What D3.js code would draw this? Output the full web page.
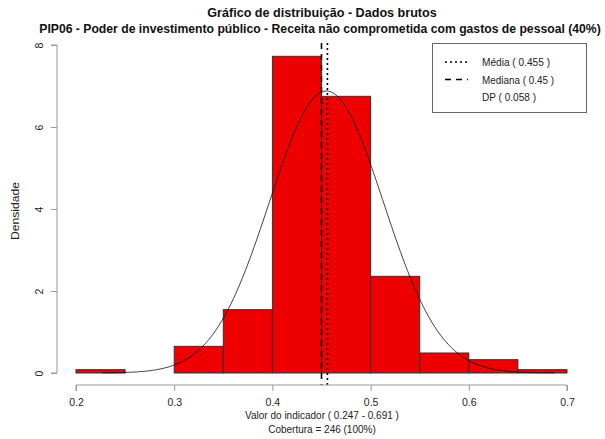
<!DOCTYPE html>
<html><head><meta charset="utf-8">
<script src="https://cdn.jsdelivr.net/npm/d3@7"></script>
<style>body{margin:0;background:#fff}svg{display:block}text{font-family:"Liberation Sans",Arial,sans-serif}</style>
</head><body>
<svg id="c" width="605" height="439"></svg>
<script>
const binStarts = [0.20,0.25,0.30,0.35,0.40,0.45,0.50,0.55,0.60,0.65];
const binWidth = 0.05;
const densities = [0.081,0,0.650,1.545,7.724,6.748,2.358,0.488,0.325,0.081];
const xTicks = [0.2,0.3,0.4,0.5,0.6,0.7];
const yTicks = [0,2,4,6,8];
const meanVal = 0.455, medianVal = 0.45, sdVal = 0.058;
const curveRange = [0.227, 0.687];
const titles = ["Gráfico de distribuição - Dados brutos","PIP06 - Poder de investimento público - Receita não comprometida com gastos de pessoal (40%)"];
const xLabels = ["Valor do indicador ( 0.247 - 0.691 )","Cobertura = 246 (100%)"];
const legendLabels = ["Média ( 0.455 )","Mediana ( 0.45 )","DP ( 0.058 )"];

const svg = d3.select("#c");
const x = d3.scaleLinear().domain([0.2,0.7]).range([76,567]);
const y = d3.scaleLinear().domain([0,8]).range([373,45]);
const plotTop = 43, plotBottom = 385;

// bars
svg.append("g").selectAll("rect").data(binStarts).join("rect")
  .attr("x", d=>x(d)).attr("width", d=>x(d+binWidth)-x(d))
  .attr("y", (d,i)=>y(densities[i])).attr("height",(d,i)=>y(0)-y(densities[i]))
  .attr("fill","#ee0000").attr("stroke","#333").attr("stroke-width",1)
  .filter((d,i)=>densities[i]===0).remove();

// normal curve
const pts = d3.range(0,201).map(i=>curveRange[0]+(curveRange[1]-curveRange[0])*i/200);
const dn = v => Math.exp(-0.5*((v-meanVal)/sdVal)**2)/(sdVal*Math.sqrt(2*Math.PI));
svg.append("path").datum(pts)
  .attr("d", d3.line().x(d=>x(d)).y(d=>y(dn(d))))
  .attr("fill","none").attr("stroke","#111").attr("stroke-width",0.8);

// mean/median lines
svg.append("line").attr("x1",x(meanVal)+1).attr("x2",x(meanVal)+1).attr("y1",plotTop).attr("y2",plotBottom)
  .attr("stroke","#000").attr("stroke-width",1.6).attr("stroke-dasharray","2,3");
svg.append("line").attr("x1",x(medianVal)).attr("x2",x(medianVal)).attr("y1",plotTop).attr("y2",plotBottom)
  .attr("stroke","#000").attr("stroke-width",1.6).attr("stroke-dasharray","6,5");

// x axis
const xa = svg.append("g").attr("transform",`translate(0,${plotBottom})`)
  .call(d3.axisBottom(x).tickValues(xTicks).tickSize(6).tickPadding(8).tickFormat(d3.format("")));
xa.select(".domain").attr("stroke","#999").attr("d",`M${x(0.2)},6V0H${x(0.7)}V6`);
xa.selectAll(".tick line").attr("stroke","#999");
xa.selectAll("text").attr("font-size","10.5px").attr("fill","#222").attr("font-family","Liberation Sans, Arial, sans-serif");

// y axis
const ya = svg.append("g").attr("transform","translate(57,0)")
  .call(d3.axisLeft(y).tickValues(yTicks).tickSize(6).tickFormat(d3.format("d")));
ya.select(".domain").attr("stroke","#999").attr("d",`M-6,${y(8)}H0V${y(0)}H-6`);
ya.selectAll(".tick line").attr("stroke","#999");
ya.selectAll("text").attr("font-size","10.5px").attr("fill","#222").attr("font-family","Liberation Sans, Arial, sans-serif")
  .attr("x",0).attr("dy",0).attr("text-anchor","middle")
  .attr("transform","translate(-14,0) rotate(-90)");

// titles
svg.append("text").attr("x",322).attr("y",17).attr("text-anchor","middle")
  .attr("font-weight","bold").attr("font-size","12.6px").attr("fill","#111").text(titles[0]);
svg.append("text").attr("x",320).attr("y",33).attr("text-anchor","middle")
  .attr("font-weight","bold").attr("font-size","12.2px").attr("fill","#111").text(titles[1]);

// x labels
svg.selectAll(".xl").data(xLabels).join("text").attr("class","xl")
  .attr("x",322).attr("y",(d,i)=>419+i*14).attr("text-anchor","middle")
  .attr("font-size","10px").attr("fill","#222").text(d=>d);

// y label
svg.append("text").attr("transform","translate(19,211) rotate(-90)").attr("text-anchor","middle")
  .attr("font-size","10.5px").attr("fill","#222").attr("textLength",58).attr("lengthAdjust","spacingAndGlyphs").text("Densidade");

// legend
const lg = svg.append("g");
lg.append("rect").attr("x",432.5).attr("y",43.5).attr("width",154).attr("height",69)
  .attr("fill","#fff").attr("stroke","#666");
const lgDash = ["2,3","6,5",null];
const lgLen = [68,72,54];
legendLabels.forEach((t,i)=>{
  const yy = 62 + i*17.5;
  if(lgDash[i]) lg.append("line").attr("x1",445).attr("x2",468).attr("y1",yy).attr("y2",yy)
    .attr("stroke","#000").attr("stroke-width",1.6).attr("stroke-dasharray",lgDash[i]);
  lg.append("text").attr("x",482).attr("y",yy+4).attr("font-size","11px").attr("fill","#222")
    .attr("textLength",lgLen[i]).attr("lengthAdjust","spacingAndGlyphs").text(t);
});
</script>
</body></html>
